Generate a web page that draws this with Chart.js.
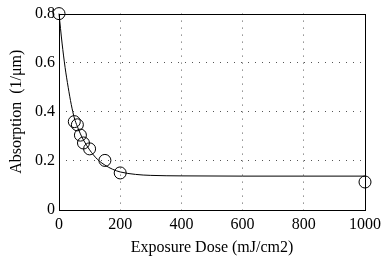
<!DOCTYPE html>
<html>
<head>
<meta charset="utf-8">
<script src="https://cdn.jsdelivr.net/npm/chart.js@4"></script>
<style>
  html, body { margin: 0; padding: 0; background: #fff; }
  #wrap { width: 386px; height: 257px; }
</style>
</head>
<body>
<div id="wrap"><canvas id="absChart"></canvas></div>
<script>
// measured points
const doseMeas = [0, 50, 60, 70, 80, 100, 150, 200, 1000];
const absMeas = [0.80, 0.36, 0.347, 0.305, 0.273, 0.249, 0.202, 0.151, 0.114];

// fitted curve
const doseFit = [0, 10, 20, 30, 40, 50, 60, 70, 80, 100, 125, 150, 175, 200, 250, 300, 400, 600, 800, 1000];
const absFit = [0.80, 0.68, 0.58, 0.50, 0.43, 0.375, 0.34, 0.31, 0.285, 0.245, 0.207, 0.183, 0.166, 0.155, 0.145, 0.141, 0.139, 0.138, 0.138, 0.138];

const xTicks = [0, 200, 400, 600, 800, 1000];
const yTicks = [0, 0.2, 0.4, 0.6, 0.8];

const font = { family: '"Liberation Serif", "Times New Roman", serif', size: 16 };

const frame = {
    id: 'frame',
    afterDatasetsDraw(chart) {
        const a = chart.chartArea;
        const c = chart.ctx;
        c.save();
        c.strokeStyle = '#000';
        c.lineWidth = 1;
        c.strokeRect(Math.round(a.left) + 0.5, Math.round(a.top) + 0.5,
            Math.round(a.right - a.left), Math.round(a.bottom - a.top));
        c.restore();
    }
};

new Chart(document.getElementById('absChart').getContext('2d'), {
    type: 'scatter',
    data: {
        datasets: [{
            data: doseFit.map((x, i) => ({ x: x, y: absFit[i] })),
            showLine: true,
            borderColor: '#000',
            borderWidth: 1,
            pointRadius: 0,
            cubicInterpolationMode: 'monotone',
            clip: false
        }, {
            data: doseMeas.map((x, i) => ({ x: x, y: absMeas[i] })),
            showLine: false,
            pointRadius: 6,
            pointBorderColor: '#000',
            pointBackgroundColor: 'rgba(0,0,0,0)',
            pointBorderWidth: 1,
            clip: false
        }]
    },
    options: {
        responsive: true,
        maintainAspectRatio: false,
        animation: false,
        layout: { padding: { left: 0, right: 19, top: 12, bottom: 0 } },
        plugins: { legend: { display: false }, tooltip: { enabled: false } },
        scales: {
            x: {
                type: 'linear',
                min: 0,
                max: 1000,
                afterFit(s) { s.height = 47; },
                afterBuildTicks(s) { s.ticks = xTicks.map(v => ({ value: v })); },
                ticks: { color: '#000', font: font, padding: 5, maxRotation: 0, callback: v => String(v) },
                grid: {
                    color: c => (c.tick && (c.tick.value === 0 || c.tick.value === 1000)) ? 'rgba(0,0,0,0)' : '#555',
                    lineWidth: 1,
                    drawTicks: false
                },
                border: { display: false, dash: [1, 6] },
                title: { display: true, text: 'Exposure Dose (mJ/cm2)', color: '#000', font: font, padding: { top: 1, bottom: 0 } }
            },
            y: {
                min: 0,
                max: 0.8,
                afterFit(s) { s.width = 59; },
                afterBuildTicks(s) { s.ticks = yTicks.map(v => ({ value: v })); },
                ticks: {
                    color: '#000', font: font, padding: 4,
                    callback: v => v === 0 ? '0' : v.toFixed(1)
                },
                grid: {
                    color: c => (c.tick && (c.tick.value === 0 || Math.abs(c.tick.value - 0.8) < 1e-9)) ? 'rgba(0,0,0,0)' : '#555',
                    lineWidth: 1,
                    drawTicks: false
                },
                border: { display: false, dash: [1, 6] },
                title: { display: true, text: 'Absorption  (1/\u03bcm)', color: '#000', font: font, padding: { top: 7, bottom: 0 } }
            }
        }
    },
    plugins: [frame]
});
</script>
</body>
</html>
